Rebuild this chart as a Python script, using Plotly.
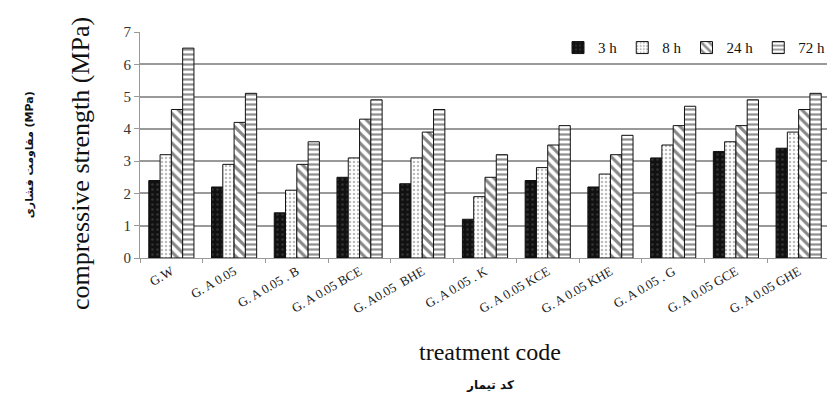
import plotly.graph_objects as go

categories = ["G.W", "G. A 0.05", "G. A 0.05 . B", "G. A 0.05 BCE", "G. A0.05  BHE",
              "G. A 0.05 . K", "G. A 0.05 KCE", "G. A 0.05 KHE", "G. A 0.05 . G",
              "G. A 0.05 GCE", "G. A 0.05 GHE"]
series_names = ["3 h", "8 h", "24 h", "72 h"]
v_3h = [2.4, 2.2, 1.4, 2.5, 2.3, 1.2, 2.4, 2.2, 3.1, 3.3, 3.4]
v_8h = [3.2, 2.9, 2.1, 3.1, 3.1, 1.9, 2.8, 2.6, 3.5, 3.6, 3.9]
v_24h = [4.6, 4.2, 2.9, 4.3, 3.9, 2.5, 3.5, 3.2, 4.1, 4.1, 4.6]
v_72h = [6.5, 5.1, 3.6, 4.9, 4.6, 3.2, 4.1, 3.8, 4.7, 4.9, 5.1]
yticks = [0, 1, 2, 3, 4, 5, 6, 7]

styles = [
    dict(color="#111111", pattern=dict(shape=".", fgcolor="#555555", size=5, solidity=0.2)),
    dict(color="white", pattern=dict(shape=".", fgcolor="#777777", size=4, solidity=0.3)),
    dict(color="white", pattern=dict(shape="\\", fgcolor="#111111", size=7, solidity=0.45)),
    dict(color="white", pattern=dict(shape="-", fgcolor="#222222", size=5, solidity=0.45)),
]

fig = go.Figure()
for name, vals, st in zip(series_names, [v_3h, v_8h, v_24h, v_72h], styles):
    fig.add_trace(go.Bar(
        x=categories, y=vals, name=name,
        marker=dict(color=st["color"], pattern=st["pattern"],
                    line=dict(color="#111111", width=1)),
    ))

serif = "Liberation Serif"
fig.update_layout(
    width=827, height=402,
    margin=dict(l=132, r=5, t=24, b=152),
    paper_bgcolor="white", plot_bgcolor="white",
    barmode="group", bargap=0.28, bargroupgap=0.0,
    font=dict(family=serif, color="#222222"),
    showlegend=True,
    legend=dict(orientation="h", x=1.0, xanchor="right", y=0.93, yanchor="middle",
                bgcolor="rgba(0,0,0,0)", font=dict(size=15, family=serif, color="#111111"),
                itemwidth=30, tracegroupgap=0),
    xaxis=dict(tickangle=-30, tickfont=dict(size=13, family=serif, color="#222222"),
               showline=True, linecolor="#999999", ticks="outside", ticklen=4,
               tickcolor="#999999", tickson="boundaries"),
    yaxis=dict(range=[0, 7], tickvals=yticks, tickfont=dict(size=15, family=serif, color="#333333"),
               showgrid=True, gridcolor="#999999", gridwidth=1.5,
               showline=True, linecolor="#999999", ticks="outside", ticklen=5,
               tickcolor="#999999", zeroline=False),
    annotations=[
        dict(text="compressive strength (MPa)", xref="paper", yref="paper",
             x=-0.087, y=0.42, textangle=-90, showarrow=False,
             font=dict(size=26, family=serif, color="#111111"),
             xanchor="center", yanchor="middle"),
        dict(text="<b>مقاومت فشاری (MPa)</b>", xref="paper", yref="paper",
             x=-0.159, y=0.456, textangle=-90, showarrow=False,
             font=dict(size=11, family="DejaVu Sans", color="#111111"),
             xanchor="center", yanchor="middle"),
        dict(text="treatment code", xref="paper", yref="paper",
             x=0.507, y=-0.416, showarrow=False,
             font=dict(size=24, family=serif, color="#111111"),
             xanchor="center", yanchor="middle"),
        dict(text="<b>کد تیمار</b>", xref="paper", yref="paper",
             x=0.507, y=-0.562, showarrow=False,
             font=dict(size=12, family="DejaVu Sans", color="#111111"),
             xanchor="center", yanchor="middle"),
    ],
)

fig.write_html("out.html")
